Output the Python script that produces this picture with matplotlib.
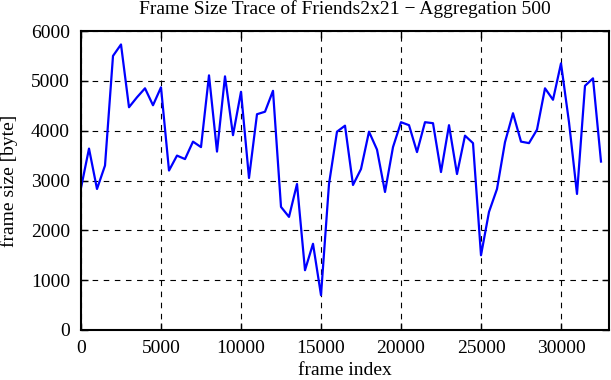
import numpy as np
import matplotlib
matplotlib.use("Agg")
import matplotlib.pyplot as plt

# frame index (aggregation of 500 frames) and aggregated frame size [byte]
frame_index = np.arange(0, 33000, 500)
frame_size = [
    2850, 3640, 2830, 3300, 5500, 5730, 4470, 4670, 4850, 4510,
    4870, 3200, 3500, 3430, 3780, 3670, 5110, 3580, 5090, 3910,
    4780, 3050, 4330, 4380, 4800, 2470, 2270, 2930, 1200, 1730,
    700, 2930, 3980, 4100, 2910, 3230, 3980, 3620, 2770, 3670,
    4170, 4110, 3570, 4170, 4150, 3170, 4110, 3130, 3900, 3750,
    1500, 2370, 2830, 3770, 4350, 3780, 3750, 4020, 4850, 4620,
    5350, 4170, 2730, 4900, 5050, 3380,
]

x_ticks = [0, 5000, 10000, 15000, 20000, 25000, 30000]
y_ticks = [0, 1000, 2000, 3000, 4000, 5000, 6000]

plt.rcParams["font.family"] = ["Liberation Serif", "DejaVu Serif"]
fs = 14

fig = plt.figure(figsize=(6.11, 3.80), dpi=100)
ax = fig.add_axes([81 / 611, 1 - 330 / 380, (609 - 81) / 611, 299 / 380])

ax.plot(frame_index, frame_size, color="#0000ff", linewidth=1.6)

ax.set_xlim(0, 33000)
ax.set_ylim(0, 6000)
ax.set_xticks(x_ticks)
ax.set_yticks(y_ticks)
ax.tick_params(direction="in", length=5, width=1, top=True, right=True,
               labelsize=fs)
ax.tick_params(axis="x", pad=7)
ax.tick_params(axis="y", pad=8)
ax.grid(True, color="black", linestyle=(0, (5, 5)), linewidth=0.8)
for sp in ax.spines.values():
    sp.set_linewidth(1.5)

ax.set_xlabel("frame index", fontsize=fs, labelpad=4)
ax.set_ylabel("frame size [byte]", fontsize=fs, labelpad=9)
ax.set_title("Frame Size Trace of Friends2x21 \u2212 Aggregation 500",
             fontsize=fs, pad=12)

fig.savefig("out.png", dpi=100)
